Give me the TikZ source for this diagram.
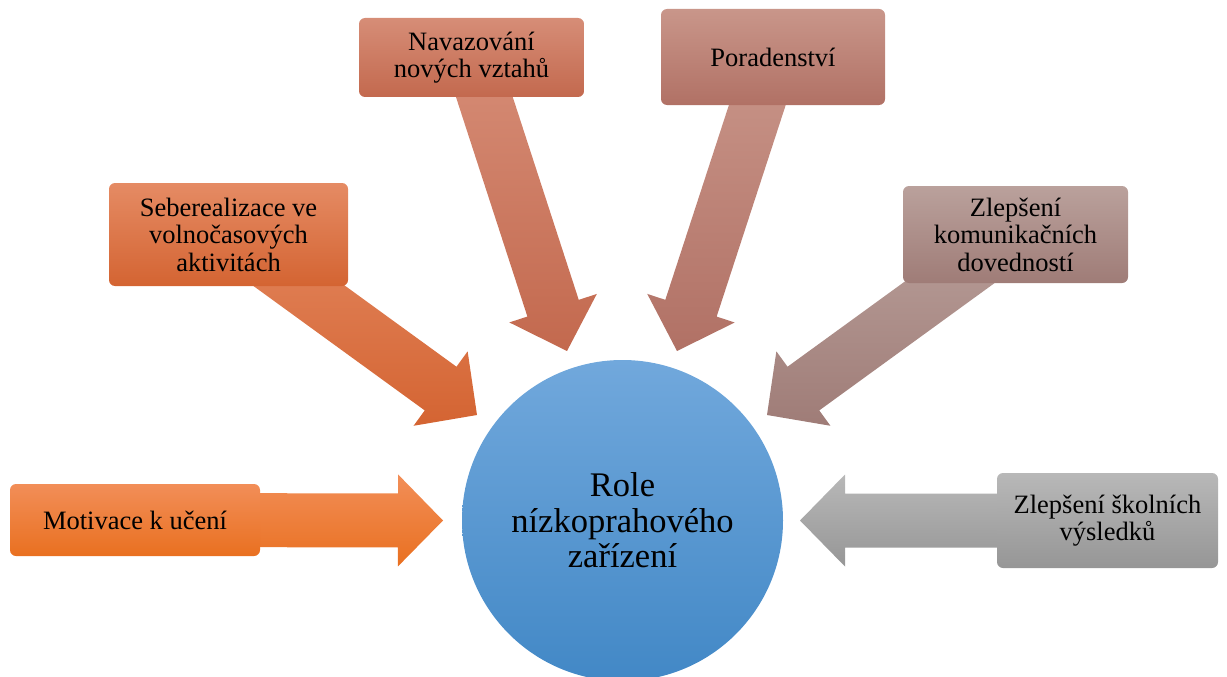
\documentclass[tikz,border=0pt]{standalone}
\usepackage{fontspec}
\setmainfont{Liberation Serif}
\usetikzlibrary{calc}
\usetikzlibrary{backgrounds}

\definecolor{motTop}{RGB}{242,142,88}
\definecolor{motBot}{RGB}{233,112,32}
\definecolor{sebTop}{RGB}{229,139,100}
\definecolor{sebBot}{RGB}{212,100,50}
\definecolor{navTop}{RGB}{214,141,119}
\definecolor{navBot}{RGB}{195,105,78}
\definecolor{porTop}{RGB}{201,150,138}
\definecolor{porBot}{RGB}{177,113,101}
\definecolor{komTop}{RGB}{186,161,156}
\definecolor{komBot}{RGB}{159,124,119}
\definecolor{skoTop}{RGB}{184,184,184}
\definecolor{skoBot}{RGB}{150,150,150}
\definecolor{roleTop}{RGB}{113,168,220}
\definecolor{roleBot}{RGB}{66,136,198}

% fat block arrow from the centre of a node to a tip coordinate
\newcommand{\fatarrow}[3]{%
  \path[#3] let \p1 = (#1.center), \p2 = (#2),
      \n1 = {atan2(\y2-\y1,\x2-\x1)},
      \n2 = {veclen(\x2-\x1,\y2-\y1)} in
    ([shift={(\p1)},rotate=\n1] 0,-27)
    -- ([shift={(\p1)},rotate=\n1] \n2-45,-27)
    -- ([shift={(\p1)},rotate=\n1] \n2-45,-46)
    -- (\p2)
    -- ([shift={(\p1)},rotate=\n1] \n2-45,46)
    -- ([shift={(\p1)},rotate=\n1] \n2-45,27)
    -- ([shift={(\p1)},rotate=\n1] 0,27)
    -- cycle;
}

\tikzset {
  role box/.style = {
    rectangle,
    rounded corners = 6pt,
    align = center,
    inner sep = 0pt,
    font = \fontsize{26.5}{27.5}\selectfont
  },
  % vertical gradient, light on top
  grad/.style 2 args = {
    top color = #1,
    bottom color = #2
  },
  role circle/.style = {
    circle,
    minimum size = 321pt,
    inner sep = 0pt,
    align = center,
    font = \fontsize{34.5}{35.5}\selectfont
  }
}

\begin{document}
\begin{tikzpicture}[x=1pt, y=1pt]
    \useasboundingbox (0,0) rectangle (1227,-677);

    \node[role circle, grad={roleTop}{roleBot}] (role) at (622.5,-520.5)
      {Role\\nízkoprahového\\zařízení};

    \node[role box, grad={motTop}{motBot}, minimum width=250pt, minimum height=72pt]
      (mot) at (135,-520) {Motivace k učení};
    \node[role box, grad={sebTop}{sebBot}, minimum width=239pt, minimum height=103pt]
      (seb) at (228.5,-234.5) {Seberealizace ve\\volnočasových\\aktivitách};
    \node[role box, grad={navTop}{navBot}, minimum width=225pt, minimum height=79pt]
      (nav) at (471.5,-57.5) {Navazování\\nových vztahů};
    \node[role box, grad={porTop}{porBot}, minimum width=224pt, minimum height=96pt]
      (por) at (773,-57) {Poradenství};
    \node[role box, grad={komTop}{komBot}, minimum width=225pt, minimum height=97pt]
      (kom) at (1015.5,-234.5) {Zlepšení\\komunikačních\\dovedností};
    \node[role box, grad={skoTop}{skoBot}, minimum width=221pt, minimum height=95pt]
      (sko) at (1107.5,-520.5) {Zlepšení školních\\výsledků};

    \coordinate (mot-tip) at (443,-520.5);
    \coordinate (seb-tip) at (477,-415);
    \coordinate (nav-tip) at (567,-351);
    \coordinate (por-tip) at (677,-351);
    \coordinate (kom-tip) at (767,-415);
    \coordinate (sko-tip) at (800,-520.5);

    \begin{pgfonlayer}{background}
      \fatarrow{mot}{mot-tip}{grad={motTop}{motBot}}
      \fatarrow{seb}{seb-tip}{grad={sebTop!90!sebBot}{sebBot}}
      \fatarrow{nav}{nav-tip}{grad={navTop}{navBot}}
      \fatarrow{por}{por-tip}{grad={porTop}{porBot}}
      \fatarrow{kom}{kom-tip}{grad={komTop}{komBot}}
      \fatarrow{sko}{sko-tip}{grad={skoTop}{skoBot}}
    \end{pgfonlayer}
\end{tikzpicture}
\end{document}
